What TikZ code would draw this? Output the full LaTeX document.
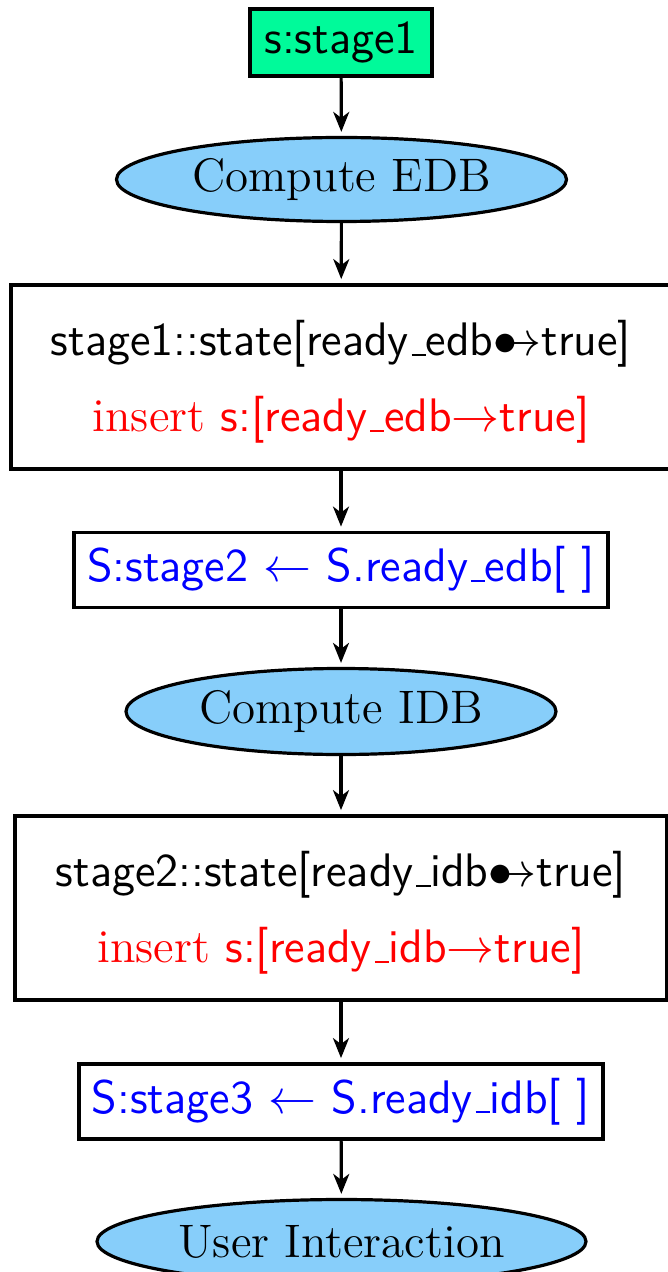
\documentclass[tikz,border=0pt]{standalone}
\usetikzlibrary{shapes.geometric,arrows.meta}
\definecolor{stagegreen}{RGB}{0,250,154}
\definecolor{stepblue}{RGB}{135,206,250}
% thin low underscore as in classic LaTeX
\newcommand\usc{\leavevmode\kern.06em\vbox{\hrule width.3em height .5pt}}
% "bullet-arrow" attribute symbol
\newcommand\battr{$\mathord{\bullet}\mkern-14mu\rightarrow$}
% extra head room for the first line of a state box
\newcommand\toproom{\rule{0pt}{11.2pt}}
\begin{document}
\begin{tikzpicture}[x=0.25pt,y=-0.25pt,
  every node/.style={font=\fontsize{11.75}{19}\selectfont, inner sep=0pt},
  startbox/.style={draw, line width=0.95pt, fill=stagegreen, rectangle,
    minimum width=45.5pt, minimum height=16.75pt},
  task/.style={draw, line width=0.8pt, fill=stepblue, ellipse},
  statebox/.style={draw, line width=0.95pt, rectangle, align=center,
    minimum width=165pt, minimum height=46pt},
  rulebox/.style={draw, line width=0.95pt, rectangle, text=blue,
    minimum height=18.75pt},
  flow/.style={-{Stealth[length=5pt,width=4pt,inset=1.5pt]}, line width=0.8pt, shorten >=1pt}]
\useasboundingbox (0,0) rectangle (667,1272);

\node[startbox] (start) at (341,42.5) {\textsf{s:stage1}};
\node[task, minimum width=112.5pt, minimum height=21pt] (edb) at (341.5,179.5) {Compute EDB};
\node[statebox] (st1) at (341,377)
  {\toproom\textsf{stage1::state[ready\usc edb\battr true]}\\
   \color{red}insert \textsf{s:[ready\usc edb$\rightarrow$true]}};
\node[rulebox, minimum width=133.5pt] (r2) at (341,570)
  {\textsf{S:stage2} $\leftarrow$ \textsf{S.ready\usc edb[\,\,]}};
\node[task, minimum width=107.5pt, minimum height=21.5pt] (idb) at (341,711.5) {Compute IDB};
\node[statebox, minimum width=163pt] (st2) at (341,908)
  {\toproom\textsf{stage2::state[ready\usc idb\battr true]}\\
   \color{red}insert \textsf{s:[ready\usc idb$\rightarrow$true]}};
\node[rulebox, minimum width=131pt] (r3) at (341,1101.5)
  {\textsf{S:stage3} $\leftarrow$ \textsf{S.ready\usc idb[\,\,]}};
\node[task, minimum width=122.25pt, minimum height=21pt] (user) at (341.5,1241.5) {User Interaction};

\draw[flow] (start) -- (edb);
\draw[flow] (edb) -- (st1);
\draw[flow] (st1) -- (r2);
\draw[flow] (r2) -- (idb);
\draw[flow] (idb) -- (st2);
\draw[flow] (st2) -- (r3);
\draw[flow] (r3) -- (user);
\end{tikzpicture}
\end{document}
